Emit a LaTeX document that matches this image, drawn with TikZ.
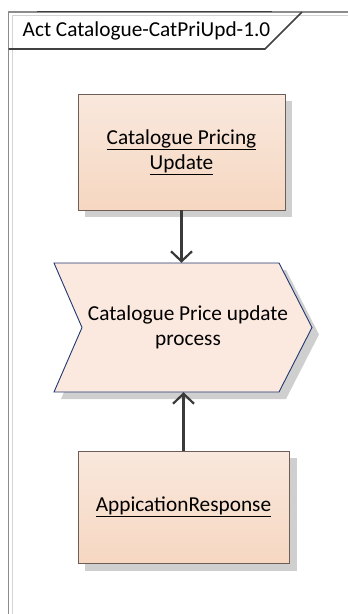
\documentclass[tikz,border=0pt]{standalone}
\usepackage{fontspec}
\setmainfont{Carlito}
\usetikzlibrary{arrows.meta}
\definecolor{framegray}{HTML}{8C8C8C}
\definecolor{framelight}{HTML}{D4D4D4}
\definecolor{tabdark}{HTML}{404040}
\definecolor{boxedge}{HTML}{6E5E55}
\definecolor{boxtop}{HTML}{F9E8DD}
\definecolor{boxbot}{HTML}{F6D7C1}
\definecolor{chevfill}{HTML}{FBE8DE}
\definecolor{chevedge}{HTML}{1F3870}
\definecolor{shadowgray}{HTML}{CFCFCF}
\definecolor{arrowgray}{HTML}{3A3A3A}
\tikzset{
  objbox/.style={rectangle, draw=boxedge, line width=0.9pt, top color=boxtop, bottom color=boxbot, align=center, font=\fontsize{21.3}{25}\selectfont},
  flowarrow/.style={draw=arrowgray, line width=2.2pt, -{Straight Barb[length=10pt,width=21pt,line width=2.2pt]}},
  lbl/.style={align=center, font=\fontsize{21.3}{25}\selectfont, inner sep=0pt}
}
\begin{document}
\begin{tikzpicture}[x=1pt,y=-1pt]
\useasboundingbox (0,0) rectangle (348,614);
% frame
\draw[framelight, line width=1pt] (12,614) -- (12,15) -- (348,15);
\draw[framegray, line width=1.4pt] (8.5,614) -- (8.5,12) -- (348,12);
\draw[tabdark, line width=1.4pt] (37,11.5) -- (272,11.5);
\draw[tabdark, line width=1.6pt] (8.5,49) -- (265,49) -- (302,12);
\node[anchor=west, inner sep=0pt, font=\fontsize{21.3}{25}\selectfont] (title) at (22.5,31) {Act Catalogue-CatPriUpd-1.0};
% shadows
\fill[shadowgray] (85,101) rectangle (292,217);
\fill[shadowgray] (61,270) -- (286,270) -- (319,334.5) -- (286,399) -- (61,399) -- (89,334.5) -- cycle;
\fill[shadowgray] (85,458) rectangle (297,571);
% chevron
\draw[chevedge, fill=chevfill, line width=0.9pt] (54,263) -- (279,263) -- (312,327.5) -- (279,392) -- (54,392) -- (82,327.5) -- cycle;
\node[minimum width=258pt, minimum height=129pt, inner sep=0pt] (proc) at (183,327.5) {};
\node[lbl] (proctext) at (188,327.5) {Catalogue Price update\\process};
% boxes
\node[objbox, minimum width=207pt, minimum height=116pt] (cpu) at (181.5,152) {\underline{Catalogue Pricing}\\\underline{Update}};
\node[objbox, minimum width=211pt, minimum height=112pt] (resp) at (183.5,507) {\underline{AppicationResponse}};
% connectors
\draw[flowarrow] (cpu.south) -- (cpu.south |- proc.north);
\draw[flowarrow] (resp.north) -- (resp.north |- proc.south);
\end{tikzpicture}
\end{document}
